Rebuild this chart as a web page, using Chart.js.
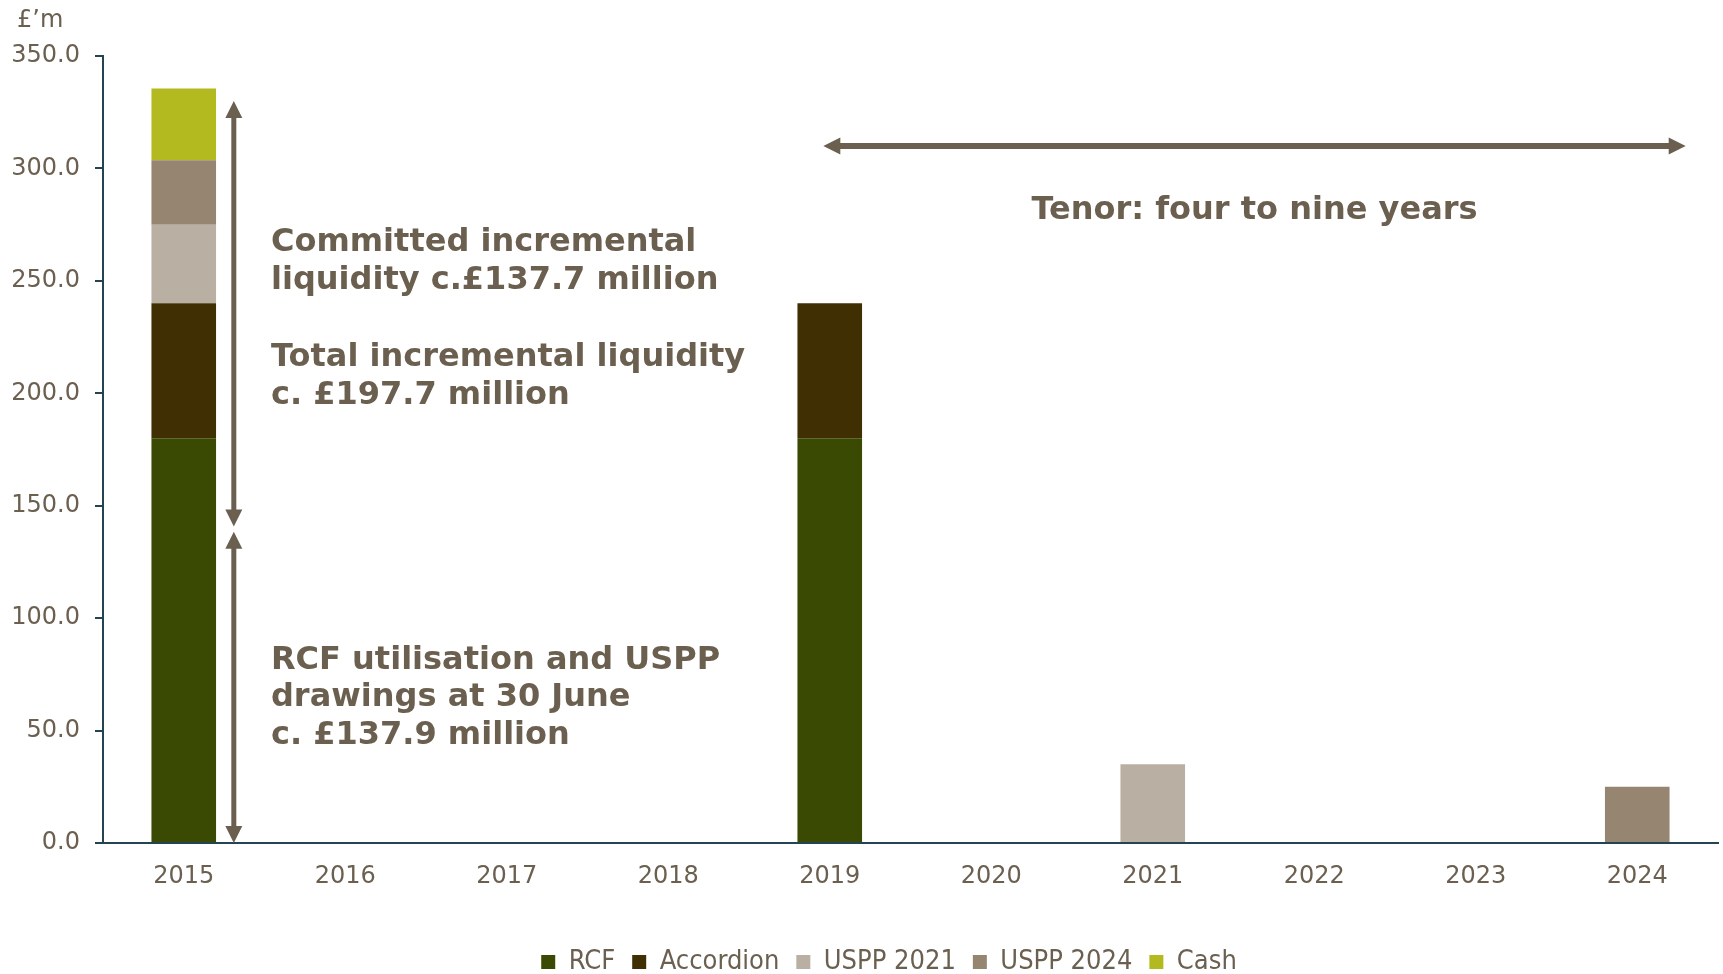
<!DOCTYPE html>
<html>
<head>
<meta charset="utf-8">
<script src="https://cdn.jsdelivr.net/npm/chart.js@4/dist/chart.umd.min.js"></script>
<style>
  html, body { margin: 0; padding: 0; background: #fff; }
  #wrap { position: relative; width: 1723px; height: 974px; }
</style>
</head>
<body>
<div id="wrap"><canvas id="chart"></canvas></div>
<script>
// maturity profile, £m
const years = ['2015', '2016', '2017', '2018', '2019', '2020', '2021', '2022', '2023', '2024'];
const rcf       = [180,  null, null, null, 180,  null, null, null, null, null];
const accordion = [60,   null, null, null, 60,   null, null, null, null, null];
const uspp2021  = [35,   null, null, null, null, null, 35,   null, null, null];
const uspp2024  = [28.6, null, null, null, null, null, null, null, null, 25];
const cash      = [32.0, null, null, null, null, null, null, null, null, null];
const yTicks = [0, 50, 100, 150, 200, 250, 300, 350];

// arrow spans (£m) beside the 2015 bar
const drawnSpan = [0, 138.4];
const headroomSpan = [140.8, 330];
// tenor arrow: category positions and level
const tenorSpan = [3.96, 9.3];
const tenorLevel = 310;

const textColor = '#6b6050';
const axisColor = '#244452';

const notes = [
  { lines: ['Committed incremental', 'liquidity c.£137.7 million'], at: 0.54, value: 263.2, align: 'left' },
  { lines: ['Total incremental liquidity', 'c. £197.7 million'], at: 0.54, value: 212.0, align: 'left' },
  { lines: ['RCF utilisation and USPP', 'drawings at 30 June', 'c. £137.9 million'], at: 0.54, value: 77.4, align: 'left' },
  { lines: ['Tenor: four to nine years'], at: 6.63, value: 277.7, align: 'center' }
];

function arrowHead(ctx, x, y, angle) {
  ctx.save();
  ctx.translate(x, y);
  ctx.rotate(angle);
  ctx.beginPath();
  ctx.moveTo(0, 0);
  ctx.lineTo(-17, -8.5);
  ctx.lineTo(-17, 8.5);
  ctx.closePath();
  ctx.fill();
  ctx.restore();
}

function arrow(ctx, x1, y1, x2, y2, both) {
  const a = Math.atan2(y2 - y1, x2 - x1);
  const sx = both ? x1 + Math.cos(a) * 15 : x1;
  const sy = both ? y1 + Math.sin(a) * 15 : y1;
  ctx.beginPath();
  ctx.moveTo(sx, sy);
  ctx.lineTo(x2 - Math.cos(a) * 15, y2 - Math.sin(a) * 15);
  ctx.stroke();
  arrowHead(ctx, x2, y2, a);
  if (both) arrowHead(ctx, x1, y1, a + Math.PI);
}

const notesPlugin = {
  id: 'notes',
  // legend sits a little right of the page centre
  afterLayout(chart) {
    chart.legend.left += 30;
    chart.legend.right += 30;
  },
  afterDraw(chart) {
    const { ctx, scales: { x, y } } = chart;
    ctx.save();
    ctx.fillStyle = textColor;
    ctx.strokeStyle = textColor;

    // unit label
    ctx.font = '24px "DejaVu Sans", Verdana, sans-serif';
    ctx.textAlign = 'left';
    ctx.textBaseline = 'alphabetic';
    ctx.fillText('£’m', 17, 27);

    // vertical arrows next to the 2015 bar
    ctx.lineWidth = 5;
    const step = x.getPixelForValue(1) - x.getPixelForValue(0);
    const ax = x.getPixelForValue(0) + step * 0.31;
    arrow(ctx, ax, y.getPixelForValue(headroomSpan[0]), ax, y.getPixelForValue(headroomSpan[1]), true);
    arrow(ctx, ax, y.getPixelForValue(drawnSpan[0]), ax, y.getPixelForValue(drawnSpan[1]), true);

    // tenor arrow
    ctx.lineWidth = 6;
    const ty = y.getPixelForValue(tenorLevel);
    arrow(ctx, x.getPixelForValue(tenorSpan[0]), ty, x.getPixelForValue(tenorSpan[1]), ty, true);

    ctx.font = 'bold 32px "DejaVu Sans", Verdana, sans-serif';
    notes.forEach(n => {
      ctx.textAlign = n.align;
      const px = x.getPixelForValue(n.at);
      const py = y.getPixelForValue(n.value);
      n.lines.forEach((line, i) => ctx.fillText(line, px, py + i * 37.5));
    });
    ctx.restore();
  }
};

new Chart(document.getElementById('chart'), {
  type: 'bar',
  data: {
    labels: years,
    datasets: [
      { label: 'RCF', data: rcf, backgroundColor: '#3b4a02' },
      { label: 'Accordion', data: accordion, backgroundColor: '#402f02' },
      { label: 'USPP 2021', data: uspp2021, backgroundColor: '#baafa3' },
      { label: 'USPP 2024', data: uspp2024, backgroundColor: '#968570' },
      { label: 'Cash', data: cash, backgroundColor: '#b3ba1f' }
    ]
  },
  options: {
    responsive: true,
    maintainAspectRatio: false,
    animation: false,
    layout: { padding: { top: 56, right: 5, left: 0, bottom: -11.5 } },
    datasets: { bar: { categoryPercentage: 1, barPercentage: 0.4 } },
    plugins: {
      legend: {
        position: 'bottom',
        labels: {
          color: textColor,
          boxWidth: 14,
          boxHeight: 14,
          padding: 17,
          font: { family: '"DejaVu Sans Condensed", "DejaVu Sans", sans-serif', size: 27 }
        }
      },
      tooltip: { enabled: false }
    },
    scales: {
      x: {
        stacked: true,
        grid: { display: true, drawOnChartArea: false, drawTicks: false },
        border: { color: axisColor, width: 2 },
        ticks: { color: textColor, padding: 19, font: { family: '"DejaVu Sans", Verdana, sans-serif', size: 24 } },
        afterFit: s => { s.height = 88.5; }
      },
      y: {
        stacked: true,
        min: 0,
        max: 350,
        afterBuildTicks: s => { s.ticks = yTicks.map(v => ({ value: v })); },
        grid: { drawOnChartArea: false, drawTicks: true, tickLength: 8, color: axisColor, lineWidth: 2 },
        border: { color: axisColor, width: 2 },
        ticks: {
          color: textColor,
          padding: 15,
          font: { family: '"DejaVu Sans", Verdana, sans-serif', size: 24 },
          callback: v => v.toFixed(1)
        },
        afterFit: s => { s.width = 103; }
      }
    }
  },
  plugins: [notesPlugin]
});
</script>
</body>
</html>
